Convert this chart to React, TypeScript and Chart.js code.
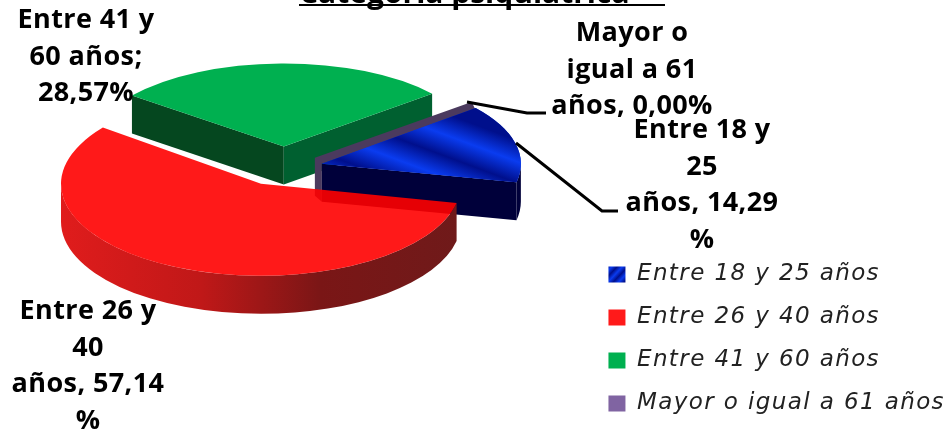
import React, { useEffect, useRef } from "react";
import { Chart, registerables } from "chart.js";

Chart.register(...registerables);

const categories = ["Entre 18 y 25 años", "Entre 26 y 40 años", "Entre 41 y 60 años", "Mayor o igual a 61 años"];
const values = [14.29, 57.14, 28.57, 0.0];
const titleText = "Categoría psiquiátrica";
const labelLines = [
  ["Entre 18 y", "25", "años, 14,29", "%"],
  ["Entre 26 y", "40", "años, 57,14", "%"],
  ["Entre 41 y", "60 años;", "28,57%"],
  ["Mayor o", "igual a 61", "años, 0,00%"],
];
const labelCenterX = [702, 88, 86, 632];
const labelFirstBaseline = [138, 319, 28, 41];
const leaderLines: number[][][] = [
  [[516, 143], [602, 211], [618, 211]],
  [],
  [],
  [[467, 102], [527, 113], [546, 113]],
];
const swatchColors = ["#0a35c8", "#ff1a1a", "#00b050", "#8064a2"];
const topColors = ["#0a35c8", "rgba(255,0,0,0.9)", "#00b050", "#4b3a5e"];
const explode = [40, 38, 50, 38];
const nudgeX = [0, -6, 1.5, 0];
const sliceRadius = [199, 200, 192, 195];
const sliceDepthY = [88, 92, 83, 88];
const DEPTH = 38;
const PIE = { x: 283, y: 168, r: 195 };
const drawOrder = [2, 3, 0, 1];
const LEGEND_SPACING = "1.4px";

const FONT = '"Open Sans", sans-serif';

function frame(arc: any, i: number) {
  const mid = (arc.startAngle + arc.endAngle) / 2;
  const rx = sliceRadius[i];
  const ry = sliceDepthY[i];
  return {
    cx: PIE.x + nudgeX[i] + Math.cos(mid) * explode[i],
    cy: PIE.y + (Math.sin(mid) * explode[i] * ry) / rx,
    rx,
    ry,
  };
}

function rimPoint(f: any, a: number) {
  return { x: f.cx + f.rx * Math.cos(a), y: f.cy + f.ry * Math.sin(a) };
}

function rimPath(ctx: CanvasRenderingContext2D, f: any, a0: number, a1: number) {
  ctx.beginPath();
  ctx.ellipse(f.cx, f.cy, f.rx, f.ry, 0, a0, a1, false);
  const p = rimPoint(f, a1);
  ctx.lineTo(p.x, p.y + DEPTH);
  ctx.ellipse(f.cx, f.cy + DEPTH, f.rx, f.ry, 0, a1, a0, true);
  ctx.closePath();
}

function radialFace(ctx: CanvasRenderingContext2D, f: any, a: number, color: string) {
  const p = rimPoint(f, a);
  ctx.fillStyle = color;
  ctx.beginPath();
  ctx.moveTo(f.cx, f.cy);
  ctx.lineTo(p.x, p.y);
  ctx.lineTo(p.x, p.y + DEPTH);
  ctx.lineTo(f.cx, f.cy + DEPTH);
  ctx.closePath();
  ctx.fill();
}

function stripes(ctx: CanvasRenderingContext2D, x0: number, y0: number, x1: number, y1: number, n: number) {
  const g = ctx.createLinearGradient(x0, y0, x1, y1);
  for (let i = 0; i <= n; i++) {
    g.addColorStop(i / n, i % 2 ? "#0a3cf0" : "#000f8c");
  }
  return g;
}

const pie3d = {
  id: "pie3d",
  beforeUpdate(chart: any) {
    chart.ctx.letterSpacing = LEGEND_SPACING;
  },
  beforeDraw(chart: any) {
    chart.ctx.letterSpacing = LEGEND_SPACING;
  },
  beforeDatasetDraw(chart: any) {
    const ctx: CanvasRenderingContext2D = chart.ctx;
    const arcs = chart.getDatasetMeta(0).data;
    ctx.save();
    for (const i of drawOrder) {
      const arc = arcs[i];
      const f = frame(arc, i);
      const a0 = arc.startAngle;
      const a1 = arc.endAngle;
      if (i === 2) {
        radialFace(ctx, f, a0, "#05471f");
        radialFace(ctx, f, a1, "#006030");
      } else if (i === 0) {
        ctx.fillStyle = "#00003a";
        rimPath(ctx, f, Math.max(a0, 0), a1);
        ctx.fill();
        radialFace(ctx, f, a1, "#00003a");
      } else if (i === 1) {
        const g = ctx.createLinearGradient(f.cx - f.rx, 0, f.cx + f.rx, 0);
        g.addColorStop(0, "#e01c1c");
        g.addColorStop(0.35, "#c01818");
        g.addColorStop(0.65, "#7a1616");
        g.addColorStop(1, "#6f1a1a");
        ctx.fillStyle = g;
        rimPath(ctx, f, a0, Math.PI);
        ctx.fill();
      } else if (i === 3) {
        // a zero-sized slice: only its thin wall shows, behind the blue slice
        const fb = frame(arcs[0], 0);
        const rim = rimPoint(fb, arcs[0].startAngle);
        ctx.fillStyle = topColors[3];
        ctx.beginPath();
        ctx.moveTo(fb.cx - 7, fb.cy - 6);
        ctx.lineTo(rim.x - 4, rim.y - 6);
        ctx.lineTo(rim.x, rim.y + 2);
        ctx.lineTo(fb.cx, fb.cy);
        ctx.lineTo(fb.cx, fb.cy + DEPTH);
        ctx.lineTo(fb.cx - 7, fb.cy + DEPTH - 6);
        ctx.closePath();
        ctx.fill();
      }
      if (i !== 3) {
        ctx.save();
        ctx.translate(f.cx, f.cy);
        ctx.scale(f.rx / PIE.r, f.ry / PIE.r);
        ctx.translate(-arc.x, -arc.y);
        arc.draw(ctx);
        ctx.restore();
      }
      if (i === 0) {
        const rim = rimPoint(f, a0);
        ctx.fillStyle = stripes(ctx, rim.x - 45, rim.y, rim.x - 45 - 56, rim.y + 150, 8);
        ctx.beginPath();
        ctx.moveTo(f.cx, f.cy);
        ctx.ellipse(f.cx, f.cy, f.rx, f.ry, 0, a0, a1, false);
        ctx.closePath();
        ctx.fill();
      }
    }
    ctx.restore();
    return false;
  },
  afterDatasetsDraw(chart: any) {
    const ctx: any = chart.ctx;
    ctx.save();
    ctx.strokeStyle = "#000";
    ctx.lineWidth = 3;
    leaderLines.forEach((pts) => {
      if (!pts.length) return;
      ctx.beginPath();
      pts.forEach((p, j) => (j ? ctx.lineTo(p[0], p[1]) : ctx.moveTo(p[0], p[1])));
      ctx.stroke();
    });
    ctx.fillStyle = "#000";
    ctx.textAlign = "center";
    ctx.textBaseline = "alphabetic";
    ctx.font = `bold 27px ${FONT}`;
    ctx.letterSpacing = "0.4px";
    labelLines.forEach((lines, i) => {
      lines.forEach((t, j) => ctx.fillText(t, labelCenterX[i], labelFirstBaseline[i] + j * 36.6));
    });
    ctx.letterSpacing = "0px";
    ctx.textAlign = "left";
    ctx.font = `bold 30px ${FONT}`;
    ctx.fillText(titleText, 299, 3, 366);
    ctx.fillRect(299, 4, 366, 2);
    ctx.restore();
  },
};

export default function App() {
  const ref = useRef<HTMLCanvasElement>(null);
  useEffect(() => {
    const chart = new Chart(ref.current!, {
      type: "pie",
      data: {
        labels: categories,
        datasets: [
          {
            data: values,
            borderWidth: 0,
            offset: 0,
            radius: PIE.r,
            backgroundColor: topColors,
          } as any,
        ],
      },
      options: {
        responsive: false,
        animation: false,
        rotation: 50.6,
        layout: { padding: { right: -6, bottom: -5 } },
        plugins: {
          tooltip: { enabled: false },
          legend: {
            position: "right",
            align: "end",
            labels: {
              boxWidth: 17,
              boxHeight: 16,
              padding: 20,
              color: "#222",
              font: { family: '"DejaVu Sans", sans-serif', size: 23, style: "italic" },
              generateLabels: (ch: any) =>
                categories.map((t, i) => ({
                  text: t,
                  index: i,
                  datasetIndex: 0,
                  hidden: false,
                  lineWidth: 0,
                  strokeStyle: "transparent",
                  fontColor: "#222",
                  fillStyle: i === 0 ? stripes(ch.ctx, 608, 265, 625, 281, 6) : swatchColors[i],
                })),
            },
          },
        },
      },
      plugins: [pie3d],
    } as any);
    return () => chart.destroy();
  }, []);
  return (
    <div style={{ position: "fixed", left: 0, top: 0, width: 949, height: 430, overflow: "hidden", background: "#fff" }}>
      <canvas ref={ref} width={949} height={430} style={{ display: "block" }} />
    </div>
  );
}
